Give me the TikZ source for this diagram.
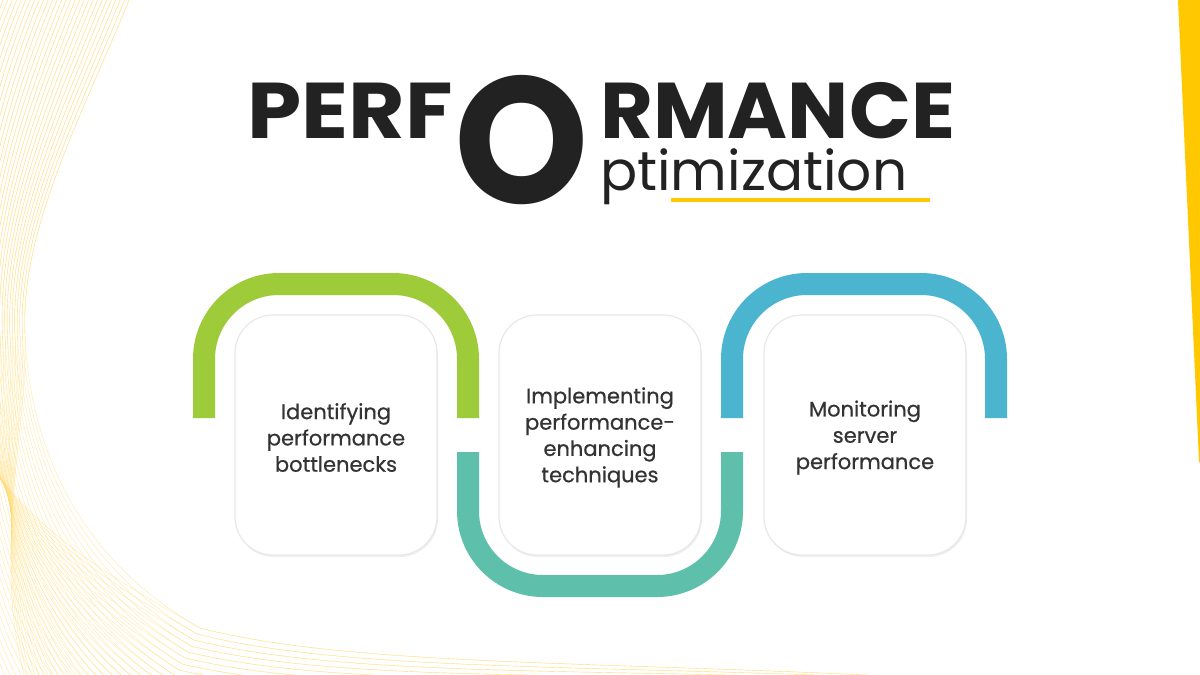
\documentclass[tikz,border=0pt]{standalone}
\usepackage{fontspec}
\setmainfont{Poppins}
\newfontfamily\medfont[FakeBold=0.6]{Poppins}
\usetikzlibrary{shadows}
\definecolor{ink}{HTML}{222222}
\definecolor{txt}{HTML}{333333}
\definecolor{accent}{HTML}{FFC800}
\definecolor{gband}{HTML}{9ECB3A}
\definecolor{tband}{HTML}{5EBFAA}
\definecolor{bband}{HTML}{4BB4CE}
\definecolor{meshc}{HTML}{FFDD7A}
\definecolor{cardline}{HTML}{E8E8E8}
\newcommand\meshcurve[4]{%
  \draw ({130-(#1)},-2) .. controls ({80-(#1)},120) and ({20-(#2)},230) .. ({25-(#2)},335)
        .. controls ({30-(#2)},{450+0.5*(#2)}) and ({80-0.7*(#3)},{560+0.7*(#3)}) .. ({200-0.5*(#3)},{628+(#3)})
        .. controls (400,{680+(#3)}) and (800,{652+(#4)}) .. (1250,{705+(#4)});}
\tikzset{
  band/.style={line width=22pt, line cap=butt},
  card/.style={draw=cardline, line width=1.2pt, fill=white, rounded corners=38pt,
    minimum width=202pt, minimum height=240pt,
    drop shadow={shadow xshift=1pt, shadow yshift=-2pt, opacity=0.12}},
  cardtext/.style={align=center, text=txt, inner sep=0pt,
    font=\medfont\fontsize{21}{26.3}\selectfont},
  bigtitle/.style={inner sep=0pt, text=ink, font=\fontsize{79}{79}\selectfont\bfseries},
}
\begin{document}
\begin{tikzpicture}[x=1pt,y=-1pt]
\useasboundingbox (0,0) rectangle (1200,675);
\fill[white] (0,0) rectangle (1200,675);
% background mesh
\begin{scope}
\clip (0,0) rectangle (1200,675);
\begin{scope}[draw=meshc, line width=0.4pt, opacity=0.65]
\foreach \k in {0,...,30} {\meshcurve{4.5*\k}{2.5*\k}{6*\k}{0.9*\k}}
\foreach \k in {0,...,30} {\meshcurve{4.5*\k}{2.5*\k}{6*(30-\k)}{0.9*(30-\k)}}
\end{scope}
\end{scope}
% right wedge
\fill[accent] (1178,0) -- (1200,0) -- (1200,462) -- (1199,462) -- cycle;
% title
\node[bigtitle, anchor=base east] (perf) at (453,138) {\scalebox{1.1}[1]{PERF}};
\node[inner sep=0pt, text=ink, anchor=base, font=\fontsize{180}{180}\selectfont\bfseries] (bigO) at (522,203) {\scalebox{0.95}[1]{O}};
\node[bigtitle, anchor=base west] (rmance) at (600,138) {\scalebox{1.03}[1]{RMANCE}};
\node[inner sep=0pt, text=ink, anchor=base west, font=\fontsize{55}{55}\selectfont] (optim) at (600,190) {ptimization};
\coordinate (ul1) at (671,200);
\coordinate (ul2) at (930,200);
\draw[accent, line width=4.5pt] (ul1) -- (ul2);
% bands
\draw[band, gband, rounded corners=75pt] (204,418) -- (204,284) -- (468,284) -- (468,418);
\draw[band, tband, rounded corners=75pt] (468,452) -- (468,586) -- (732,586) -- (732,452);
\draw[band, bband, rounded corners=75pt] (732,418) -- (732,284) -- (996,284) -- (996,418);
% cards
\node[card] (c1) at (336,435) {};
\node[card] (c2) at (600,435) {};
\node[card] (c3) at (865,435) {};
\node[cardtext] (t1) at ([yshift=-2.5pt]c1.center) {Identifying\\performance\\bottlenecks};
\node[cardtext] (t2) at ([yshift=-2.5pt]c2.center) {Implementing\\performance-\\enhancing\\techniques};
\node[cardtext] (t3) at ([yshift=-2.5pt]c3.center) {Monitoring\\server\\performance};
\end{tikzpicture}
\end{document}
